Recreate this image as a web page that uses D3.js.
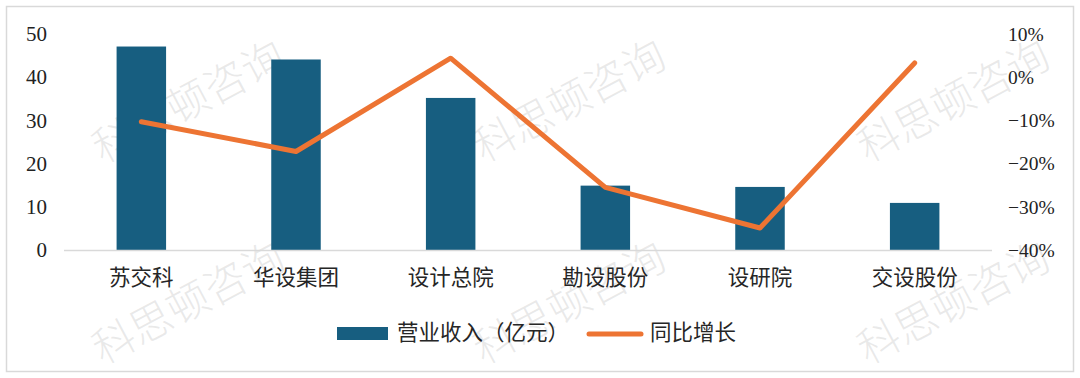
<!DOCTYPE html>
<html>
<head>
<meta charset="utf-8">
<script src="https://cdn.jsdelivr.net/npm/d3@7"></script>
<style>
  body { margin: 0; background: #fff; }
  svg text { font-family: "Liberation Serif", "Noto Sans CJK SC", serif; }
  .cn { font-family: "Noto Sans CJK SC", sans-serif; }
</style>
</head>
<body>
<div id="chart"></div>
<script>
// data
const companies = ["苏交科", "华设集团", "设计总院", "勘设股份", "设研院", "交设股份"];
const revenue = [47.1, 44.1, 35.2, 14.9, 14.6, 10.9];        // 亿元
const growth = [-10.3, -17.2, 4.4, -25.5, -34.9, 3.3];       // %
const leftTicks = [0, 10, 20, 30, 40, 50];
const rightTicks = [-40, -30, -20, -10, 0, 10];
const legendLabels = ["营业收入（亿元）", "同比增长"];
const watermark = "科思顿咨询";

const W = 1080, H = 378;
const plot = { left: 64, right: 992, top: 34, bottom: 250 };
const barColor = "#175e80";
const lineColor = "#ed7433";

const svg = d3.select("#chart").append("svg")
    .attr("width", W)
    .attr("height", H);

// outer frame
svg.append("rect")
    .attr("x", 6.5).attr("y", 6.5)
    .attr("width", 1067).attr("height", 365)
    .attr("fill", "#fff")
    .attr("stroke", "#d9d9d9")
    .attr("stroke-width", 1.5);

const x = d3.scaleBand()
    .domain(companies)
    .range([plot.left, plot.right])
    .paddingInner(0.68)
    .paddingOuter(0.34);

const y = d3.scaleLinear().domain([0, 50]).range([plot.bottom, plot.top]);
const y2 = d3.scaleLinear().domain([-40, 10]).range([plot.bottom, plot.top]);

// watermarks (drawn under everything)
const marks = [[190, 105], [571, 104], [955, 104], [190, 306], [571, 306], [955, 306]];
svg.append("g").selectAll("text")
    .data(marks)
    .join("text")
    .attr("class", "cn")
    .attr("transform", d => `translate(${d[0]},${d[1]}) rotate(-28)`)
    .attr("text-anchor", "middle")
    .attr("dominant-baseline", "middle")
    .attr("font-size", 42)
    .attr("font-weight", 300)
    .attr("fill", "#bfbfbf")
    .attr("fill-opacity", 0.35)
    .text(watermark);

// bars
svg.append("g").selectAll("rect")
    .data(companies)
    .join("rect")
    .attr("x", d => x(d))
    .attr("y", (d, i) => y(revenue[i]))
    .attr("width", x.bandwidth())
    .attr("height", (d, i) => y(0) - y(revenue[i]))
    .attr("fill", barColor);

// baseline
svg.append("line")
    .attr("x1", plot.left).attr("x2", plot.right)
    .attr("y1", y(0) + 0.5).attr("y2", y(0) + 0.5)
    .attr("stroke", "#d9d9d9")
    .attr("stroke-width", 1.5);

// left axis labels
const leftAxis = d3.axisLeft(y).tickValues(leftTicks).tickSize(0).tickPadding(0);
svg.append("g")
    .attr("transform", `translate(47,0)`)
    .call(leftAxis)
    .call(g => g.select(".domain").remove())
    .selectAll("text")
    .attr("font-size", 21)
    .attr("fill", "#222")
    .style("font-family", "Liberation Serif");

// right axis labels (left aligned like the reference)
const rightAxis = d3.axisRight(y2).tickValues(rightTicks).tickSize(0).tickPadding(0)
    .tickFormat(d => (d < 0 ? "\u2212" + Math.abs(d) : d) + "%");
svg.append("g")
    .attr("transform", `translate(1008,0)`)
    .call(rightAxis)
    .call(g => g.select(".domain").remove())
    .selectAll("text")
    .attr("font-size", 19.5)
    .attr("fill", "#222")
    .style("font-family", "Liberation Serif");

// category labels
svg.append("g").selectAll("text")
    .data(companies)
    .join("text")
    .attr("class", "cn")
    .attr("x", d => x(d) + x.bandwidth() / 2)
    .attr("y", 279)
    .attr("text-anchor", "middle")
    .attr("dominant-baseline", "middle")
    .attr("font-size", 21.5)
    .attr("fill", "#262626")
    .text(d => d);

// growth line
const line = d3.line()
    .x((d, i) => x(companies[i]) + x.bandwidth() / 2)
    .y(d => y2(d));
svg.append("path")
    .datum(growth)
    .attr("d", line)
    .attr("fill", "none")
    .attr("stroke", lineColor)
    .attr("stroke-width", 5)
    .attr("stroke-linejoin", "round")
    .attr("stroke-linecap", "round");

// legend
const legend = svg.append("g");
legend.append("rect")
    .attr("x", 337).attr("y", 327)
    .attr("width", 51).attr("height", 13)
    .attr("fill", barColor);
legend.append("text")
    .attr("class", "cn")
    .attr("x", 397).attr("y", 334)
    .attr("dominant-baseline", "middle")
    .attr("font-size", 21.5)
    .attr("fill", "#262626")
    .text(legendLabels[0]);
legend.append("line")
    .attr("x1", 589).attr("x2", 641)
    .attr("y1", 334).attr("y2", 334)
    .attr("stroke", lineColor)
    .attr("stroke-width", 5)
    .attr("stroke-linecap", "round");
legend.append("text")
    .attr("class", "cn")
    .attr("x", 650).attr("y", 334)
    .attr("dominant-baseline", "middle")
    .attr("font-size", 21.5)
    .attr("fill", "#262626")
    .text(legendLabels[1]);
</script>
</body>
</html>
